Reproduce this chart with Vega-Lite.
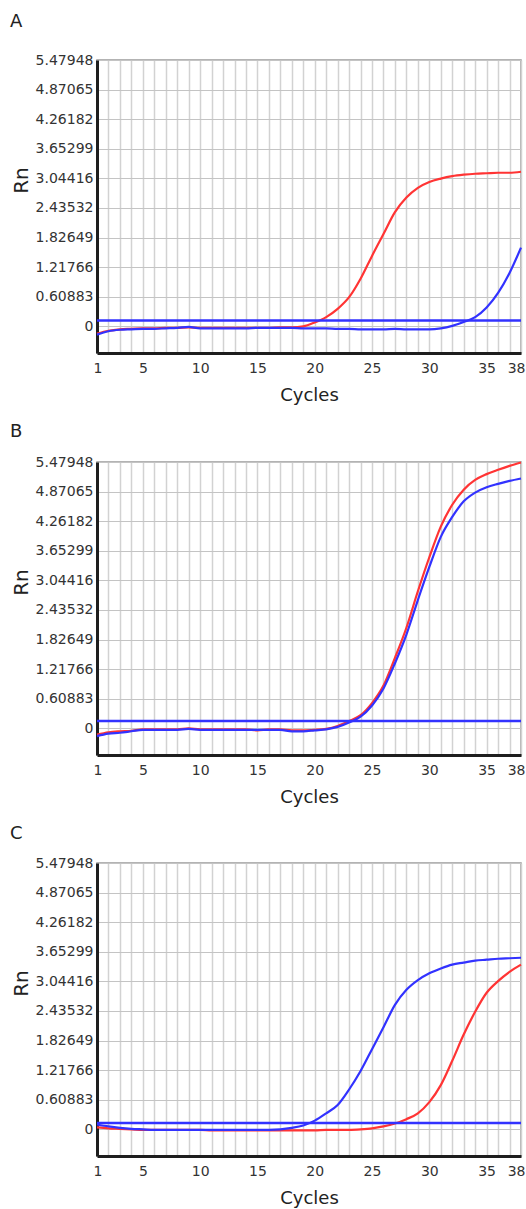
{
  "$schema": "https://vega.github.io/schema/vega-lite/v6.json",
  "background": "white",
  "padding": {"left": 9, "top": 12, "right": 0, "bottom": 0},
  "spacing": 17,
  "datasets": {
    "curves": [
      {"panel":"A","dye":"red","cycle":1,"rn":-0.15},{"panel":"A","dye":"red","cycle":2,"rn":-0.09},{"panel":"A","dye":"red","cycle":3,"rn":-0.06},{"panel":"A","dye":"red","cycle":4,"rn":-0.05},{"panel":"A","dye":"red","cycle":5,"rn":-0.04},{"panel":"A","dye":"red","cycle":6,"rn":-0.04},{"panel":"A","dye":"red","cycle":7,"rn":-0.03},{"panel":"A","dye":"red","cycle":8,"rn":-0.03},{"panel":"A","dye":"red","cycle":9,"rn":-0.02},{"panel":"A","dye":"red","cycle":10,"rn":-0.03},
      {"panel":"A","dye":"red","cycle":11,"rn":-0.03},{"panel":"A","dye":"red","cycle":12,"rn":-0.03},{"panel":"A","dye":"red","cycle":13,"rn":-0.03},{"panel":"A","dye":"red","cycle":14,"rn":-0.03},{"panel":"A","dye":"red","cycle":15,"rn":-0.03},{"panel":"A","dye":"red","cycle":16,"rn":-0.03},{"panel":"A","dye":"red","cycle":17,"rn":-0.02},{"panel":"A","dye":"red","cycle":18,"rn":-0.02},{"panel":"A","dye":"red","cycle":19,"rn":0.0},{"panel":"A","dye":"red","cycle":20,"rn":0.08},
      {"panel":"A","dye":"red","cycle":21,"rn":0.19},{"panel":"A","dye":"red","cycle":22,"rn":0.36},{"panel":"A","dye":"red","cycle":23,"rn":0.6},{"panel":"A","dye":"red","cycle":24,"rn":0.98},{"panel":"A","dye":"red","cycle":25,"rn":1.45},{"panel":"A","dye":"red","cycle":26,"rn":1.9},{"panel":"A","dye":"red","cycle":27,"rn":2.35},{"panel":"A","dye":"red","cycle":28,"rn":2.65},{"panel":"A","dye":"red","cycle":29,"rn":2.85},{"panel":"A","dye":"red","cycle":30,"rn":2.97},
      {"panel":"A","dye":"red","cycle":31,"rn":3.04},{"panel":"A","dye":"red","cycle":32,"rn":3.09},{"panel":"A","dye":"red","cycle":33,"rn":3.12},{"panel":"A","dye":"red","cycle":34,"rn":3.14},{"panel":"A","dye":"red","cycle":35,"rn":3.15},{"panel":"A","dye":"red","cycle":36,"rn":3.16},{"panel":"A","dye":"red","cycle":37,"rn":3.16},{"panel":"A","dye":"red","cycle":38,"rn":3.18},
      {"panel":"A","dye":"blue","cycle":1,"rn":-0.17},{"panel":"A","dye":"blue","cycle":2,"rn":-0.1},{"panel":"A","dye":"blue","cycle":3,"rn":-0.07},{"panel":"A","dye":"blue","cycle":4,"rn":-0.06},{"panel":"A","dye":"blue","cycle":5,"rn":-0.05},{"panel":"A","dye":"blue","cycle":6,"rn":-0.05},{"panel":"A","dye":"blue","cycle":7,"rn":-0.04},{"panel":"A","dye":"blue","cycle":8,"rn":-0.03},{"panel":"A","dye":"blue","cycle":9,"rn":-0.01},{"panel":"A","dye":"blue","cycle":10,"rn":-0.04},
      {"panel":"A","dye":"blue","cycle":11,"rn":-0.04},{"panel":"A","dye":"blue","cycle":12,"rn":-0.04},{"panel":"A","dye":"blue","cycle":13,"rn":-0.04},{"panel":"A","dye":"blue","cycle":14,"rn":-0.04},{"panel":"A","dye":"blue","cycle":15,"rn":-0.03},{"panel":"A","dye":"blue","cycle":16,"rn":-0.03},{"panel":"A","dye":"blue","cycle":17,"rn":-0.03},{"panel":"A","dye":"blue","cycle":18,"rn":-0.03},{"panel":"A","dye":"blue","cycle":19,"rn":-0.04},{"panel":"A","dye":"blue","cycle":20,"rn":-0.04},
      {"panel":"A","dye":"blue","cycle":21,"rn":-0.04},{"panel":"A","dye":"blue","cycle":22,"rn":-0.05},{"panel":"A","dye":"blue","cycle":23,"rn":-0.05},{"panel":"A","dye":"blue","cycle":24,"rn":-0.06},{"panel":"A","dye":"blue","cycle":25,"rn":-0.06},{"panel":"A","dye":"blue","cycle":26,"rn":-0.06},{"panel":"A","dye":"blue","cycle":27,"rn":-0.05},{"panel":"A","dye":"blue","cycle":28,"rn":-0.06},{"panel":"A","dye":"blue","cycle":29,"rn":-0.06},{"panel":"A","dye":"blue","cycle":30,"rn":-0.06},
      {"panel":"A","dye":"blue","cycle":31,"rn":-0.04},{"panel":"A","dye":"blue","cycle":32,"rn":0.01},{"panel":"A","dye":"blue","cycle":33,"rn":0.09},{"panel":"A","dye":"blue","cycle":34,"rn":0.19},{"panel":"A","dye":"blue","cycle":35,"rn":0.39},{"panel":"A","dye":"blue","cycle":36,"rn":0.69},{"panel":"A","dye":"blue","cycle":37,"rn":1.1},{"panel":"A","dye":"blue","cycle":38,"rn":1.62},

      {"panel":"B","dye":"red","cycle":1,"rn":-0.13},{"panel":"B","dye":"red","cycle":2,"rn":-0.08},{"panel":"B","dye":"red","cycle":3,"rn":-0.06},{"panel":"B","dye":"red","cycle":4,"rn":-0.05},{"panel":"B","dye":"red","cycle":5,"rn":-0.02},{"panel":"B","dye":"red","cycle":6,"rn":-0.02},{"panel":"B","dye":"red","cycle":7,"rn":-0.02},{"panel":"B","dye":"red","cycle":8,"rn":-0.02},{"panel":"B","dye":"red","cycle":9,"rn":0.0},{"panel":"B","dye":"red","cycle":10,"rn":-0.02},
      {"panel":"B","dye":"red","cycle":11,"rn":-0.02},{"panel":"B","dye":"red","cycle":12,"rn":-0.02},{"panel":"B","dye":"red","cycle":13,"rn":-0.02},{"panel":"B","dye":"red","cycle":14,"rn":-0.02},{"panel":"B","dye":"red","cycle":15,"rn":-0.04},{"panel":"B","dye":"red","cycle":16,"rn":-0.02},{"panel":"B","dye":"red","cycle":17,"rn":-0.02},{"panel":"B","dye":"red","cycle":18,"rn":-0.04},{"panel":"B","dye":"red","cycle":19,"rn":-0.04},{"panel":"B","dye":"red","cycle":20,"rn":-0.03},
      {"panel":"B","dye":"red","cycle":21,"rn":-0.01},{"panel":"B","dye":"red","cycle":22,"rn":0.05},{"panel":"B","dye":"red","cycle":23,"rn":0.15},{"panel":"B","dye":"red","cycle":24,"rn":0.27},{"panel":"B","dye":"red","cycle":25,"rn":0.52},{"panel":"B","dye":"red","cycle":26,"rn":0.88},{"panel":"B","dye":"red","cycle":27,"rn":1.45},{"panel":"B","dye":"red","cycle":28,"rn":2.07},{"panel":"B","dye":"red","cycle":29,"rn":2.82},{"panel":"B","dye":"red","cycle":30,"rn":3.52},
      {"panel":"B","dye":"red","cycle":31,"rn":4.15},{"panel":"B","dye":"red","cycle":32,"rn":4.6},{"panel":"B","dye":"red","cycle":33,"rn":4.91},{"panel":"B","dye":"red","cycle":34,"rn":5.11},{"panel":"B","dye":"red","cycle":35,"rn":5.23},{"panel":"B","dye":"red","cycle":36,"rn":5.32},{"panel":"B","dye":"red","cycle":37,"rn":5.4},{"panel":"B","dye":"red","cycle":38,"rn":5.47},
      {"panel":"B","dye":"blue","cycle":1,"rn":-0.16},{"panel":"B","dye":"blue","cycle":2,"rn":-0.11},{"panel":"B","dye":"blue","cycle":3,"rn":-0.09},{"panel":"B","dye":"blue","cycle":4,"rn":-0.06},{"panel":"B","dye":"blue","cycle":5,"rn":-0.03},{"panel":"B","dye":"blue","cycle":6,"rn":-0.03},{"panel":"B","dye":"blue","cycle":7,"rn":-0.03},{"panel":"B","dye":"blue","cycle":8,"rn":-0.03},{"panel":"B","dye":"blue","cycle":9,"rn":-0.01},{"panel":"B","dye":"blue","cycle":10,"rn":-0.03},
      {"panel":"B","dye":"blue","cycle":11,"rn":-0.03},{"panel":"B","dye":"blue","cycle":12,"rn":-0.03},{"panel":"B","dye":"blue","cycle":13,"rn":-0.03},{"panel":"B","dye":"blue","cycle":14,"rn":-0.03},{"panel":"B","dye":"blue","cycle":15,"rn":-0.03},{"panel":"B","dye":"blue","cycle":16,"rn":-0.03},{"panel":"B","dye":"blue","cycle":17,"rn":-0.03},{"panel":"B","dye":"blue","cycle":18,"rn":-0.06},{"panel":"B","dye":"blue","cycle":19,"rn":-0.06},{"panel":"B","dye":"blue","cycle":20,"rn":-0.04},
      {"panel":"B","dye":"blue","cycle":21,"rn":-0.02},{"panel":"B","dye":"blue","cycle":22,"rn":0.03},{"panel":"B","dye":"blue","cycle":23,"rn":0.12},{"panel":"B","dye":"blue","cycle":24,"rn":0.24},{"panel":"B","dye":"blue","cycle":25,"rn":0.47},{"panel":"B","dye":"blue","cycle":26,"rn":0.82},{"panel":"B","dye":"blue","cycle":27,"rn":1.34},{"panel":"B","dye":"blue","cycle":28,"rn":1.93},{"panel":"B","dye":"blue","cycle":29,"rn":2.64},{"panel":"B","dye":"blue","cycle":30,"rn":3.32},
      {"panel":"B","dye":"blue","cycle":31,"rn":3.94},{"panel":"B","dye":"blue","cycle":32,"rn":4.35},{"panel":"B","dye":"blue","cycle":33,"rn":4.67},{"panel":"B","dye":"blue","cycle":34,"rn":4.85},{"panel":"B","dye":"blue","cycle":35,"rn":4.96},{"panel":"B","dye":"blue","cycle":36,"rn":5.03},{"panel":"B","dye":"blue","cycle":37,"rn":5.09},{"panel":"B","dye":"blue","cycle":38,"rn":5.14},

      {"panel":"C","dye":"red","cycle":1,"rn":0.04},{"panel":"C","dye":"red","cycle":2,"rn":0.02},{"panel":"C","dye":"red","cycle":3,"rn":0.01},{"panel":"C","dye":"red","cycle":4,"rn":0.0},{"panel":"C","dye":"red","cycle":5,"rn":-0.01},{"panel":"C","dye":"red","cycle":6,"rn":-0.01},{"panel":"C","dye":"red","cycle":7,"rn":-0.01},{"panel":"C","dye":"red","cycle":8,"rn":-0.01},{"panel":"C","dye":"red","cycle":9,"rn":-0.01},{"panel":"C","dye":"red","cycle":10,"rn":-0.01},
      {"panel":"C","dye":"red","cycle":11,"rn":-0.02},{"panel":"C","dye":"red","cycle":12,"rn":-0.02},{"panel":"C","dye":"red","cycle":13,"rn":-0.02},{"panel":"C","dye":"red","cycle":14,"rn":-0.02},{"panel":"C","dye":"red","cycle":15,"rn":-0.02},{"panel":"C","dye":"red","cycle":16,"rn":-0.02},{"panel":"C","dye":"red","cycle":17,"rn":-0.02},{"panel":"C","dye":"red","cycle":18,"rn":-0.02},{"panel":"C","dye":"red","cycle":19,"rn":-0.02},{"panel":"C","dye":"red","cycle":20,"rn":-0.02},
      {"panel":"C","dye":"red","cycle":21,"rn":-0.01},{"panel":"C","dye":"red","cycle":22,"rn":-0.01},{"panel":"C","dye":"red","cycle":23,"rn":-0.01},{"panel":"C","dye":"red","cycle":24,"rn":0.0},{"panel":"C","dye":"red","cycle":25,"rn":0.02},{"panel":"C","dye":"red","cycle":26,"rn":0.06},{"panel":"C","dye":"red","cycle":27,"rn":0.12},{"panel":"C","dye":"red","cycle":28,"rn":0.21},{"panel":"C","dye":"red","cycle":29,"rn":0.33},{"panel":"C","dye":"red","cycle":30,"rn":0.56},
      {"panel":"C","dye":"red","cycle":31,"rn":0.91},{"panel":"C","dye":"red","cycle":32,"rn":1.41},{"panel":"C","dye":"red","cycle":33,"rn":1.95},{"panel":"C","dye":"red","cycle":34,"rn":2.42},{"panel":"C","dye":"red","cycle":35,"rn":2.81},{"panel":"C","dye":"red","cycle":36,"rn":3.05},{"panel":"C","dye":"red","cycle":37,"rn":3.24},{"panel":"C","dye":"red","cycle":38,"rn":3.39},
      {"panel":"C","dye":"blue","cycle":1,"rn":0.1},{"panel":"C","dye":"blue","cycle":2,"rn":0.06},{"panel":"C","dye":"blue","cycle":3,"rn":0.03},{"panel":"C","dye":"blue","cycle":4,"rn":0.01},{"panel":"C","dye":"blue","cycle":5,"rn":0.0},{"panel":"C","dye":"blue","cycle":6,"rn":-0.01},{"panel":"C","dye":"blue","cycle":7,"rn":-0.01},{"panel":"C","dye":"blue","cycle":8,"rn":-0.01},{"panel":"C","dye":"blue","cycle":9,"rn":-0.01},{"panel":"C","dye":"blue","cycle":10,"rn":-0.01},
      {"panel":"C","dye":"blue","cycle":11,"rn":-0.01},{"panel":"C","dye":"blue","cycle":12,"rn":-0.01},{"panel":"C","dye":"blue","cycle":13,"rn":-0.01},{"panel":"C","dye":"blue","cycle":14,"rn":-0.01},{"panel":"C","dye":"blue","cycle":15,"rn":-0.01},{"panel":"C","dye":"blue","cycle":16,"rn":-0.01},{"panel":"C","dye":"blue","cycle":17,"rn":0.0},{"panel":"C","dye":"blue","cycle":18,"rn":0.03},{"panel":"C","dye":"blue","cycle":19,"rn":0.08},{"panel":"C","dye":"blue","cycle":20,"rn":0.18},
      {"panel":"C","dye":"blue","cycle":21,"rn":0.33},{"panel":"C","dye":"blue","cycle":22,"rn":0.5},{"panel":"C","dye":"blue","cycle":23,"rn":0.82},{"panel":"C","dye":"blue","cycle":24,"rn":1.2},{"panel":"C","dye":"blue","cycle":25,"rn":1.65},{"panel":"C","dye":"blue","cycle":26,"rn":2.1},{"panel":"C","dye":"blue","cycle":27,"rn":2.56},{"panel":"C","dye":"blue","cycle":28,"rn":2.87},{"panel":"C","dye":"blue","cycle":29,"rn":3.07},{"panel":"C","dye":"blue","cycle":30,"rn":3.21},
      {"panel":"C","dye":"blue","cycle":31,"rn":3.31},{"panel":"C","dye":"blue","cycle":32,"rn":3.39},{"panel":"C","dye":"blue","cycle":33,"rn":3.43},{"panel":"C","dye":"blue","cycle":34,"rn":3.47},{"panel":"C","dye":"blue","cycle":35,"rn":3.49},{"panel":"C","dye":"blue","cycle":36,"rn":3.51},{"panel":"C","dye":"blue","cycle":37,"rn":3.52},{"panel":"C","dye":"blue","cycle":38,"rn":3.53}
    ],
    "thresholds": [
      {"panel":"A","rn":0.12},{"panel":"B","rn":0.15},{"panel":"C","rn":0.13}
    ]
  },
  "vconcat": [
    {
      "title": {"text": "A", "offset": 22},
      "width": 424, "height": 293,
      "layer": [
        {
          "data": {"name": "curves"},
          "transform": [{"filter": "datum.panel === 'A'"}],
          "mark": {"type": "line", "strokeWidth": 2.2, "interpolate": "monotone"},
          "encoding": {
            "x": {"field": "cycle", "type": "quantitative", "scale": {"domain": [1, 38], "nice": false, "zero": false},
              "axis": {"title": "Cycles", "format": "d", "values": [1,2,3,4,5,6,7,8,9,10,11,12,13,14,15,16,17,18,19,20,21,22,23,24,25,26,27,28,29,30,31,32,33,34,35,36,37,38],
                "labelExpr": "indexof([1,5,10,15,20,25,30,35,38], datum.value) >= 0 ? datum.label : ''"}},
            "y": {"field": "rn", "type": "quantitative", "scale": {"domain": [-0.547948, 5.47948], "nice": false, "zero": false},
              "axis": {"title": "Rn", "tickCount": 100, "values": [0,0.60883,1.21766,1.82649,2.43532,3.04416,3.65299,4.26182,4.87065,5.47948], "format": ".6~g"}},
            "color": {"field": "dye", "type": "nominal", "scale": {"domain": ["red", "blue"], "range": ["#ff3434", "#3232ff"]}, "legend": null}
          }
        },
        {
          "data": {"name": "thresholds"},
          "transform": [{"filter": "datum.panel === 'A'"}],
          "mark": {"type": "rule", "color": "#3232ff", "strokeWidth": 2.5},
          "encoding": {"y": {"field": "rn", "type": "quantitative"}}
        }
      ]
    },
    {
      "title": {"text": "B", "offset": 14},
      "width": 424, "height": 293,
      "layer": [
        {
          "data": {"name": "curves"},
          "transform": [{"filter": "datum.panel === 'B'"}],
          "mark": {"type": "line", "strokeWidth": 2.2, "interpolate": "monotone"},
          "encoding": {
            "x": {"field": "cycle", "type": "quantitative", "scale": {"domain": [1, 38], "nice": false, "zero": false},
              "axis": {"title": "Cycles", "format": "d", "values": [1,2,3,4,5,6,7,8,9,10,11,12,13,14,15,16,17,18,19,20,21,22,23,24,25,26,27,28,29,30,31,32,33,34,35,36,37,38],
                "labelExpr": "indexof([1,5,10,15,20,25,30,35,38], datum.value) >= 0 ? datum.label : ''"}},
            "y": {"field": "rn", "type": "quantitative", "scale": {"domain": [-0.547948, 5.47948], "nice": false, "zero": false},
              "axis": {"title": "Rn", "tickCount": 100, "values": [0,0.60883,1.21766,1.82649,2.43532,3.04416,3.65299,4.26182,4.87065,5.47948], "format": ".6~g"}},
            "color": {"field": "dye", "type": "nominal", "scale": {"domain": ["red", "blue"], "range": ["#ff3434", "#3232ff"]}, "legend": null}
          }
        },
        {
          "data": {"name": "thresholds"},
          "transform": [{"filter": "datum.panel === 'B'"}],
          "mark": {"type": "rule", "color": "#3232ff", "strokeWidth": 2.5},
          "encoding": {"y": {"field": "rn", "type": "quantitative"}}
        }
      ]
    },
    {
      "title": {"text": "C", "offset": 13},
      "width": 424, "height": 293,
      "layer": [
        {
          "data": {"name": "curves"},
          "transform": [{"filter": "datum.panel === 'C'"}],
          "mark": {"type": "line", "strokeWidth": 2.2, "interpolate": "monotone"},
          "encoding": {
            "x": {"field": "cycle", "type": "quantitative", "scale": {"domain": [1, 38], "nice": false, "zero": false},
              "axis": {"title": "Cycles", "format": "d", "values": [1,2,3,4,5,6,7,8,9,10,11,12,13,14,15,16,17,18,19,20,21,22,23,24,25,26,27,28,29,30,31,32,33,34,35,36,37,38],
                "labelExpr": "indexof([1,5,10,15,20,25,30,35,38], datum.value) >= 0 ? datum.label : ''"}},
            "y": {"field": "rn", "type": "quantitative", "scale": {"domain": [-0.547948, 5.47948], "nice": false, "zero": false},
              "axis": {"title": "Rn", "tickCount": 100, "values": [0,0.60883,1.21766,1.82649,2.43532,3.04416,3.65299,4.26182,4.87065,5.47948], "format": ".6~g"}},
            "color": {"field": "dye", "type": "nominal", "scale": {"domain": ["red", "blue"], "range": ["#ff3434", "#3232ff"]}, "legend": null}
          }
        },
        {
          "data": {"name": "thresholds"},
          "transform": [{"filter": "datum.panel === 'C'"}],
          "mark": {"type": "rule", "color": "#3232ff", "strokeWidth": 2.5},
          "encoding": {"y": {"field": "rn", "type": "quantitative"}}
        }
      ]
    }
  ],
  "config": {
    "font": "DejaVu Sans",
    "view": {"stroke": "#9a9a9a", "strokeWidth": 1.5},
    "axis": {"labelFont": "DejaVu Sans", "labelFontSize": 14, "labelColor": "#333333", "titleFont": "DejaVu Sans", "titleFontSize": 18, "titleFontWeight": "normal", "titleColor": "#222222", "ticks": false, "domainColor": "#1e1e1e", "domainWidth": 3, "labelOverlap": false, "labelBound": false},
    "axisX": {"gridColor": "#d2d2d2", "gridWidth": 1.5, "labelPadding": 8, "titlePadding": 11, "labelFlush": true, "labelFlushOffset": 4, "labelOverlap": false},
    "axisY": {"titleFontSize": 20, "titleX": -70, "titleY": 120, "titleBaseline": "alphabetic", "titleAlign": "center", "titleAngle": -90, "gridColor": "#c4c4c4", "gridWidth": 1.2, "labelPadding": 4, "labelOverlap": false, "labelFlush": false},
    "title": {"font": "DejaVu Sans", "fontSize": 18, "fontWeight": "normal", "color": "#222222", "anchor": "start", "frame": "bounds", "baseline": "alphabetic", "dx": -1}
  }
}
